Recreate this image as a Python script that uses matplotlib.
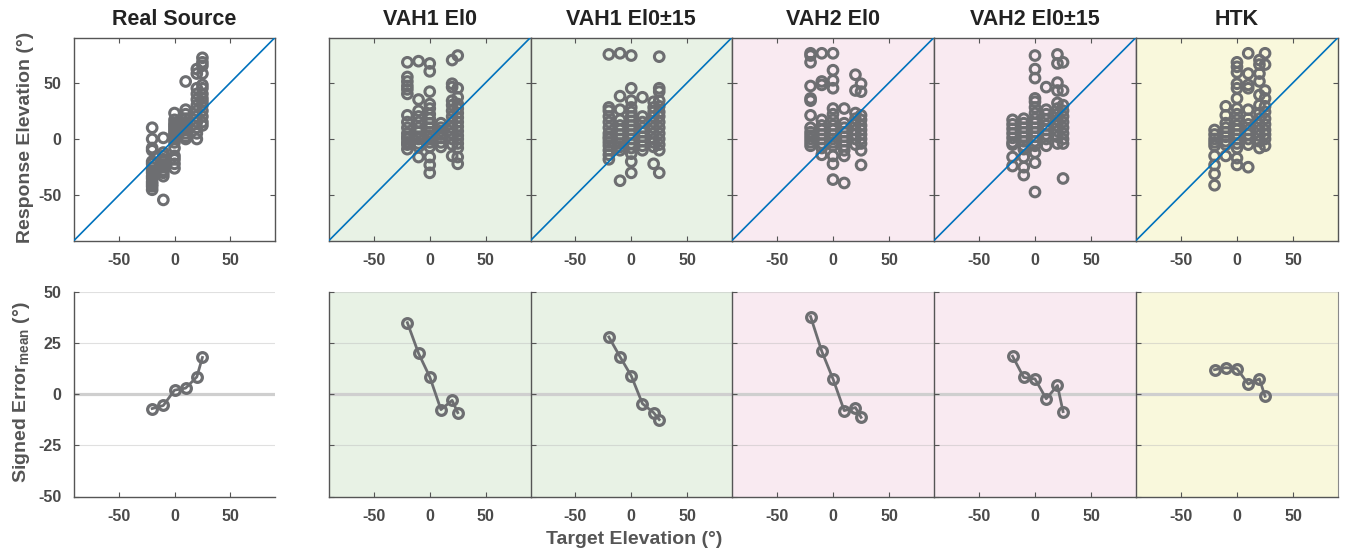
import matplotlib
matplotlib.use('Agg')
import matplotlib.pyplot as plt

plt.rcParams['font.family'] = ['Liberation Sans', 'DejaVu Sans']
plt.rcParams['font.weight'] = 'bold'
plt.rcParams['axes.unicode_minus'] = False
plt.rcParams['mathtext.fontset'] = 'custom'
plt.rcParams['mathtext.bf'] = 'Liberation Sans:bold'
plt.rcParams['mathtext.rm'] = 'Liberation Sans:bold'

# Target elevations (deg)
targets = [-20, -10, 0, 10, 20, 25]
titles = ['Real Source', 'VAH1 El0', 'VAH1 El0\u00b115', 'VAH2 El0', 'VAH2 El0\u00b115', 'HTK']

# Response elevations per target (one list per target)
resp_real = [
    [10, 0, -8, -10, -20, -22, -25, -28, -30, -33, -35, -38, -40, -42, -45],
    [1, -12, -15, -18, -20, -23, -25, -28, -30, -33, -54],
    [23, 17, 14, 12, 10, 8, 6, 4, 2, 0, -3, -8, -15, -18, -22, -26],
    [51, 26, 22, 18, 15, 12, 10, 8, 5, 2, 0],
    [62, 58, 45, 40, 35, 30, 25, 20, 15, 10, 5, 0],
    [72, 68, 65, 58, 48, 45, 40, 36, 33, 30, 25, 20, 15, 12],
]
resp_vah1_el0 = [
    [68, 55, 51, 47, 44, 40, 21, 15, 10, 5, 2, 0, -3, -5, -9],
    [69, 35, 25, 20, 15, 10, 6, 2, 0, -4, -7, -16],
    [67, 60, 42, 31, 27, 22, 18, 14, 10, 6, 3, 0, -3, -7, -16, -23, -30],
    [14, 10, 7, 4, 1, -3, -7],
    [70, 49, 46, 34, 30, 25, 20, 15, 10, 5, 0, -5, -15],
    [74, 45, 37, 31, 27, 23, 19, 15, 11, 7, 3, 0, -4, -8, -16, -22],
]
resp_vah1_el015 = [
    [75, 28, 25, 20, 15, 10, 5, 2, 0, -3, -6, -10, -14, -18],
    [76, 38, 26, 17, 12, 8, 4, 0, -4, -7, -10, -37],
    [74, 45, 34, 28, 24, 20, 16, 12, 8, 4, 0, -4, -8, -13, -20, -30],
    [37, 20, 15, 10, 6, 2, -2, -6, -10],
    [33, 28, 24, 20, 15, 10, 5, 0, -3, -7, -22],
    [73, 45, 42, 34, 29, 24, 20, 15, 10, 5, 0, -5, -10, -30],
]
resp_vah2_el0 = [
    [76, 74, 68, 47, 36, 34, 21, 10, 6, 3, 0, -3, -6],
    [76, 51, 48, 17, 12, 8, 4, 0, -4, -8, -14],
    [76, 61, 52, 45, 27, 22, 17, 12, 8, 4, 0, -3, -6, -15, -22, -36],
    [27, 14, 10, 6, 2, -2, -6, -10, -15, -39],
    [57, 43, 23, 18, 13, 8, 4, 0, -5],
    [49, 42, 21, 17, 12, 8, 4, 0, -4, -10, -23],
]
resp_vah2_el015 = [
    [17, 13, 9, 5, 1, -3, -5, -16, -24],
    [18, 14, 10, 6, 2, -2, -6, -9, -16, -25, -32],
    [74, 62, 54, 36, 33, 28, 23, 18, 14, 10, 6, 2, -2, -6, -12, -21, -47],
    [46, 26, 22, 17, 12, 8, 4, 0, -6],
    [75, 67, 50, 43, 32, 27, 22, 17, 12, 7, 2, -4],
    [68, 43, 30, 25, 20, 15, 10, 5, 0, -4, -35],
]
resp_htk = [
    [8, 4, 0, -3, -6, -15, -23, -31, -41],
    [29, 21, 14, 10, 6, 2, -2, -5, -15],
    [68, 64, 59, 49, 45, 36, 27, 22, 17, 12, 8, 4, 0, -4, -8, -17, -23],
    [76, 58, 48, 45, 26, 18, 13, 8, 4, 0, -5, -25],
    [70, 66, 58, 51, 39, 30, 23, 18, 13, 8, 3, -2, -8],
    [76, 66, 43, 36, 29, 24, 18, 13, 8, 4, 0, -6],
]

# Mean signed error per target (deg)
err_real = [-7, -5.5, 2, 3, 8.5, 18]
err_vah1_el0 = [35, 20, 8.5, -7.5, -3, -9]
err_vah1_el015 = [28, 18.3, 9, -4.6, -9, -12.4]
err_vah2_el0 = [38, 21, 7.5, -8, -6.5, -11.3]
err_vah2_el015 = [18.6, 8.2, 7.5, -2.2, 4.3, -8.5]
err_htk = [12, 13, 12.5, 5, 7.5, -1]

responses = [resp_real, resp_vah1_el0, resp_vah1_el015, resp_vah2_el0, resp_vah2_el015, resp_htk]
errors = [err_real, err_vah1_el0, err_vah1_el015, err_vah2_el0, err_vah2_el015, err_htk]
face_colors = ['white', '#E8F2E5', '#E8F2E5', '#F9EAF1', '#F9EAF1', '#F9F8DC']

W, H = 1347, 553
gray = '#6D6E71'
spine_col = '#555555'
tick_col = '#4A4A4A'

fig = plt.figure(figsize=(W / 100, H / 100), dpi=100)

# Panel column lefts and widths in pixels
lefts = [74, 329, 530.5, 732, 934, 1136]
widths = [201, 201.5, 201.5, 202, 202, 202]


def px_axes(x0, y0, w, h):
    return fig.add_axes([x0 / W, 1 - (y0 + h) / H, w / W, h / H])


for i in range(6):
    # ---- top row: response vs target ----
    ax = px_axes(lefts[i], 37.5, widths[i], 203)
    ax.set_facecolor(face_colors[i])
    for t, vals in zip(targets, responses[i]):
        ax.scatter([t] * len(vals), vals, s=48, facecolors='none', edgecolors=gray,
                   linewidths=2.2, zorder=2)
    ax.plot([-90, 90], [-90, 90], color='#0072BD', lw=1.2, zorder=3)
    ax.set_xlim(-90, 90)
    ax.set_ylim(-90, 90)
    ax.set_xticks([-50, 0, 50])
    ax.set_yticks([-50, 0, 50])
    ax.tick_params(direction='in', length=3.5, width=0.8, color=spine_col,
                   top=True, right=True, labelsize=11.5, labelcolor=tick_col, pad=9)
    if i > 0:
        ax.set_yticklabels([])
    for sp in ax.spines.values():
        sp.set_color(spine_col)
        sp.set_linewidth(1.0)
    ax.set_title(titles[i], fontsize=15.5, fontweight='bold', color='#222222', pad=9)

    # ---- bottom row: signed error ----
    bx = px_axes(lefts[i], 292, widths[i], 204.5)
    bx.set_facecolor(face_colors[i])
    for yv in [-25, 25, 50]:
        bx.axhline(yv, color='#BBBBBB', lw=0.8, alpha=0.45, zorder=0)
    bx.axhline(0, color='#CFCFCF', lw=2.3, zorder=1)
    bx.plot(targets, errors[i], color=gray, lw=2.0, marker='o', ms=7,
            mfc='none', mec=gray, mew=2.3, zorder=3)
    bx.set_xlim(-90, 90)
    bx.set_ylim(-50, 50)
    bx.set_xticks([-50, 0, 50])
    bx.set_yticks([-50, -25, 0, 25, 50])
    bx.tick_params(direction='in', length=3.5, width=0.8, color=spine_col,
                   labelsize=11.5, labelcolor=tick_col, pad=9)
    if i > 0:
        bx.set_yticklabels([])
    bx.spines['top'].set_visible(False)
    if i == 5:
        bx.spines['right'].set_color('#8A8A8A')
    else:
        bx.spines['right'].set_visible(False)
    for side in ['left', 'bottom']:
        bx.spines[side].set_color(spine_col)
        bx.spines[side].set_linewidth(1.0)

# Shared labels
fig.text(26 / W, 1 - 137 / H, 'Response Elevation (\u00b0)', rotation=90, ha='center',
         va='center', fontsize=14, fontweight='bold', color='#555555')
fig.text(22 / W, 1 - 392 / H, 'Signed Error$_{\\mathbf{mean}}$ (\u00b0)', rotation=90,
         ha='center', va='center', fontsize=14, fontweight='bold', color='#555555')
fig.text(634 / W, 1 - 540 / H, 'Target Elevation (\u00b0)', ha='center', va='center',
         fontsize=14, fontweight='bold', color='#555555')

fig.savefig('out.png', dpi=100)
